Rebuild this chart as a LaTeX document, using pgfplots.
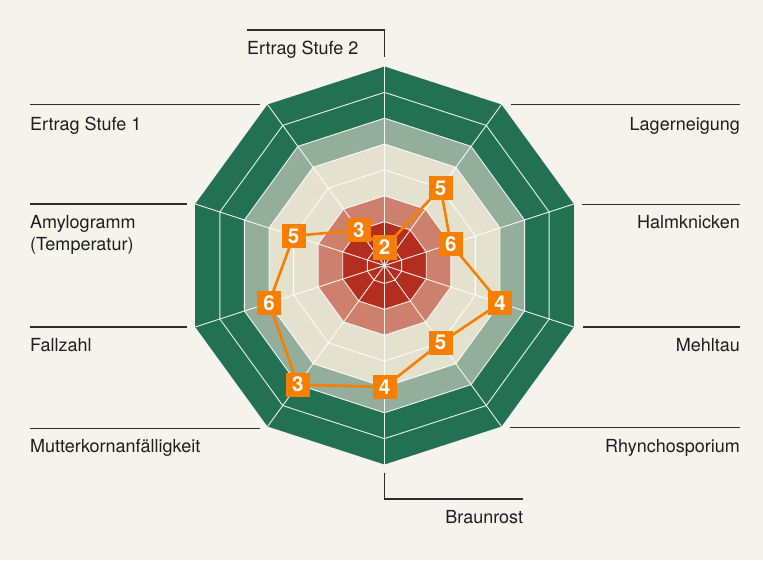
\documentclass[border=0pt]{standalone}
\usepackage{pgfplots}
\pgfplotsset{compat=1.18}
\usepackage{pgfplotstable}
\usepackage{fontspec}
\setmainfont{TeX Gyre Heros}
\definecolor{bg}{HTML}{F6F3ED}
\definecolor{dkgreen}{HTML}{237153}
\definecolor{grgreen}{HTML}{94AE9C}
\definecolor{beige}{HTML}{E4E2CF}
\definecolor{salmon}{HTML}{CD806B}
\definecolor{dkred}{HTML}{B42E1F}
\definecolor{orng}{HTML}{F77F00}
\definecolor{linec}{HTML}{2E2E2E}
\definecolor{txt}{HTML}{1E1E1E}

% angles of the ten axes (clockwise from top), closed; s = unit radius
\pgfplotstableread{
a s
90 1
54 1
18 1
-18 1
-54 1
-90 1
-126 1
-162 1
162 1
126 1
90 1
}\decagon

% ring index (0..7) and printed value per axis
\pgfplotstableread{
a r lab
90 0 2
54 3 5
18 2 6
-18 4 4
-54 3 5
-90 4 4
-126 5 3
-162 4 6
162 3 5
126 1 3
90 0 2
}\scores

\begin{document}
\begin{tikzpicture}
\begin{scope}[x=1pt,y=-1pt,shift={(-384.5pt,265.5pt)}]
\fill[bg] (0,0) rectangle (763,560);
\end{scope}
\begin{axis}[at={(0pt,0pt)}, anchor=origin, x=1pt, y=1pt,
  xmin=-384.5, xmax=378.5, ymin=-294.5, ymax=265.5,
  hide axis, clip=false, data cs=polar]
% filled bands
\addplot[fill=dkgreen, draw=none] table[x=a, y expr=199*\thisrow{s}] {\decagon};
\addplot[fill=grgreen, draw=none] table[x=a, y expr=147.29*\thisrow{s}] {\decagon};
\addplot[fill=beige, draw=none] table[x=a, y expr=121.43*\thisrow{s}] {\decagon};
\addplot[fill=salmon, draw=none] table[x=a, y expr=69.71*\thisrow{s}] {\decagon};
\addplot[fill=dkred, draw=none] table[x=a, y expr=43.86*\thisrow{s}] {\decagon};
% grid rings
\pgfplotsinvokeforeach{18,43.86,69.71,95.57,121.43,147.29,173.14}{
  \addplot[white, line width=0.9pt, opacity=0.9] table[x=a, y expr=#1*\thisrow{s}] {\decagon};
}
% spokes
\pgfplotsinvokeforeach{90,54,18,-18,-54,-90,-126,-162,162,126}{
  \addplot[white, line width=0.9pt, opacity=0.9] coordinates {(#1,0) (#1,199)};
}
% profile
\addplot[orng, line width=2.6pt, line join=round,
  nodes near coords, point meta=explicit symbolic,
  nodes near coords style={anchor=center, fill=orng, text=white,
    minimum size=24pt, inner sep=0pt, line width=0pt,
    font=\fontsize{20.5}{20.5}\selectfont\bfseries}]
  table[x=a, y expr=18+25.857*\thisrow{r}, meta=lab] {\scores};
\end{axis}
\begin{scope}[x=1pt,y=-1pt,shift={(-384.5pt,265.5pt)}]
\begin{scope}[linec, line width=1.4pt]
\draw (30,104.7)--(260,104.7);
\draw (30,204)--(187,204);
\draw (30,327)--(187,327);
\draw (30,428.3)--(260,428.3);
\draw (511,104.7)--(740,104.7);
\draw (582,204.3)--(740,204.3);
\draw (583,327)--(740,327);
\draw (510,427.7)--(740,427.7);
\draw (247,30)--(384.5,30)--(384.5,57.3);
\draw (384.5,473.3)--(384.5,499)--(523.3,499);
\end{scope}
\begin{scope}[every node/.style={inner sep=0pt, text=txt, font=\fontsize{18}{20}\selectfont}]
\node[anchor=base west] at (247,55) {Ertrag Stufe 2};
\node[anchor=base west] at (30,130.5) {Ertrag Stufe 1};
\node[anchor=base west] at (30,228.3) {Amylogramm};
\node[anchor=base west] at (30,250) {(Temperatur)};
\node[anchor=base west] at (30,351) {Fallzahl};
\node[anchor=base west] at (30,452.3) {Mutterkornanfälligkeit};
\node[anchor=base east] at (740,130.5) {Lagerneigung};
\node[anchor=base east] at (740,228.3) {Halmknicken};
\node[anchor=base east] at (740,351) {Mehltau};
\node[anchor=base east] at (740,452) {Rhynchosporium};
\node[anchor=base east] at (523.3,523.3) {Braunrost};
\end{scope}
\end{scope}
\end{tikzpicture}
\end{document}
